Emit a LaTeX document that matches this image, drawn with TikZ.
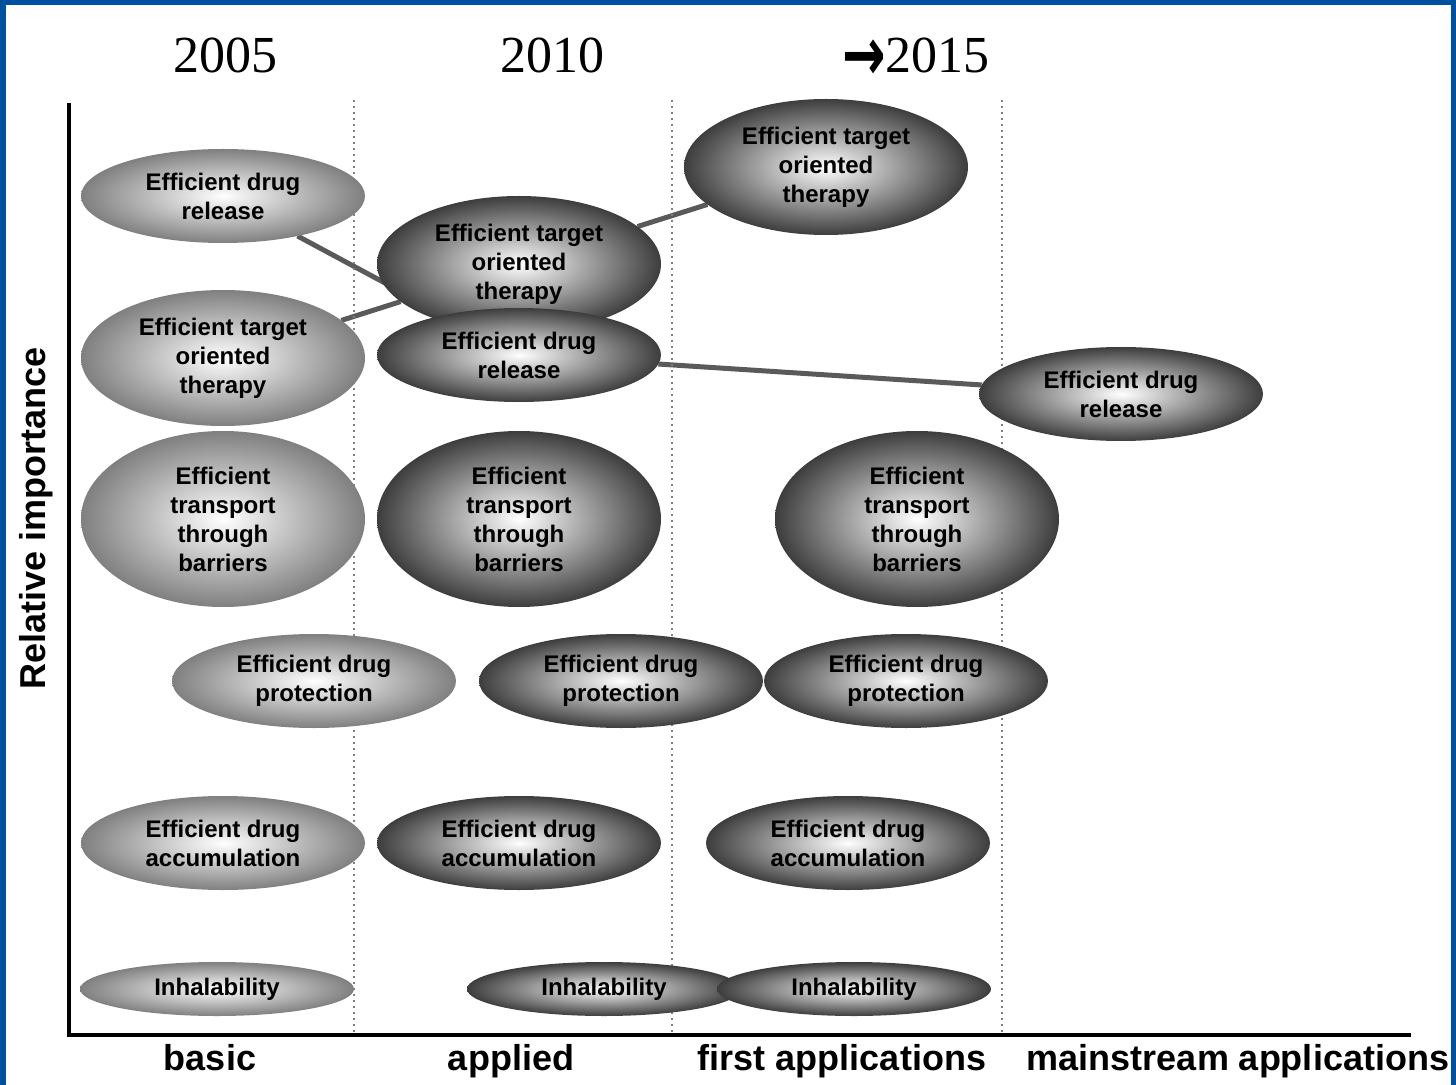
\documentclass[tikz,border=0pt]{standalone}
\usepackage{fontspec}
\setmainfont{Liberation Sans}
\newfontfamily\yearfont{Liberation Serif}
\newfontfamily\arrowfont{DejaVu Sans}
\usetikzlibrary{shapes.geometric,backgrounds}
\definecolor{framebl}{RGB}{0,80,160}
\definecolor{connc}{RGB}{90,90,90}
\begin{document}
\begin{tikzpicture}[x=0.5pt,y=-0.5pt,
  bubble/.style={ellipse,inner sep=0pt,outer sep=0pt,align=center,
    minimum width=142pt,minimum height=47pt,
    font=\fontsize{12}{14.5}\selectfont\bfseries,
    shading=radial,inner color=white},
  light/.style={bubble,outer color=black!50},
  dark/.style={bubble,outer color=black!76},
  tall/.style={minimum height=68pt},
  taller/.style={minimum height=88pt},
  flat/.style={minimum width=137pt,minimum height=27pt},
  conn/.style={draw=connc,line width=2.5pt},
  grid/.style={draw=black!50,line width=1pt,dash pattern=on 1pt off 2pt},
  axis/.style={draw=black,line width=2pt,line join=miter},
  year/.style={font=\yearfont\fontsize{26}{30}\selectfont,anchor=base},
  phase/.style={font=\fontsize{18}{21}\selectfont\bfseries,anchor=base}]
\useasboundingbox (0,0) rectangle (1456,1085);
% frame
\fill[framebl] (0,0) rectangle (1456,5);
\fill[framebl] (0,0) rectangle (6,1085);
\fill[framebl] (1451,0) rectangle (1456,1085);

% years
\node[year] (y1) at (225,73) {2005};
\node[year] (y2) at (552,73) {2010};
\node[year] (y3) at (916,73) {\raisebox{-3.8pt}{\scalebox{1}[1.45]{\arrowfont\bfseries →}}2015};

% axes
\draw[axis] (69,103) -- (69,1035) -- (1411,1035);
\node[phase] (p1) at (210,1070) {basic};
\node[phase] (p2) at (511,1070) {applied};
\node[phase] (p3) at (842,1070) {first applications};
\node[phase] (p4) at (1238,1070) {mainstream applications};
\node[phase,rotate=90] (yl) at (46,518) {Relative importance};

% basic research
\node[light] (b-rel) at (223,196) {Efficient drug\\release};
\node[light,tall] (b-tgt) at (223,358) {Efficient target\\oriented\\therapy};
\node[light,taller] (b-trn) at (223,519) {Efficient\\transport\\through\\barriers};
\node[light] (b-prt) at (314,681) {Efficient drug\\protection};
\node[light] (b-acc) at (223,843) {Efficient drug\\accumulation};
\node[light,flat] (b-inh) at (217,989) {Inhalability};

% applied research
\node[dark,tall] (a-tgt) at (519,264) {Efficient target\\oriented\\therapy};
\node[dark] (a-rel) at (519,355) {Efficient drug\\release};
\node[dark,taller] (a-trn) at (519,519) {Efficient\\transport\\through\\barriers};
\node[dark] (a-prt) at (621,681) {Efficient drug\\protection};
\node[dark] (a-acc) at (519,843) {Efficient drug\\accumulation};
\node[dark,flat] (a-inh) at (604,989) {Inhalability};

% first applications
\node[dark,tall] (f-tgt) at (826,167) {Efficient target\\oriented\\therapy};
\node[dark,taller] (f-trn) at (917,519) {Efficient\\transport\\through\\barriers};
\node[dark] (f-prt) at (906,681) {Efficient drug\\protection};
\node[dark] (f-acc) at (848,843) {Efficient drug\\accumulation};
\node[dark,flat] (f-inh) at (854,989) {Inhalability};

% mainstream applications
\node[dark] (m-rel) at (1121,394) {Efficient drug\\release};

\begin{pgfonlayer}{background}
  % trends
  \draw[conn] (b-rel) -- (a-rel);
  \draw[conn] (a-rel) -- (m-rel);
  \draw[conn] (b-tgt) -- (a-tgt);
  \draw[conn] (a-tgt) -- (f-tgt);
  % phase separators
  \draw[grid] (354,100) -- (354,1032);
  \draw[grid] (672,100) -- (672,1032);
  \draw[grid] (1002,100) -- (1002,1032);
\end{pgfonlayer}
\end{tikzpicture}
\end{document}
